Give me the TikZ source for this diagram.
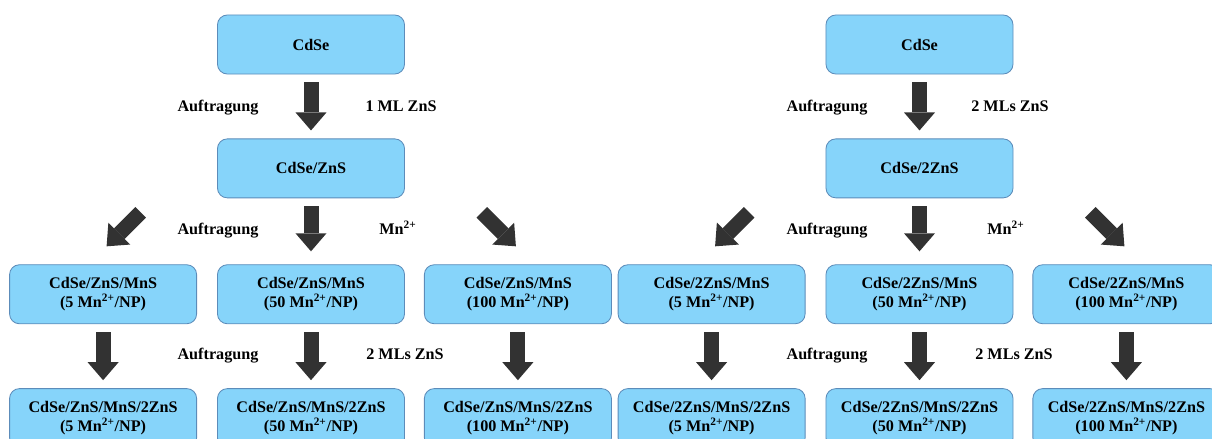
\documentclass[tikz,border=0pt]{standalone}
\usepackage{fontspec}
\setmainfont{Liberation Serif}
\usetikzlibrary{arrows.meta,positioning}
\definecolor{boxblue}{RGB}{134,212,250}
\definecolor{boxline}{RGB}{92,140,186}
\definecolor{arrowgray}{RGB}{50,50,50}

\begin{document}
\begin{tikzpicture}[x=0.025cm,y=-0.025cm,
every node/.style = {font=\bfseries\fontsize{11.5}{13.5}\selectfont, align=center},
sample/.style = {draw=boxline, fill=boxblue, line width=0.6pt, rounded corners=7pt, minimum width=4.675cm, minimum height=1.475cm},
fat/.style = {draw=arrowgray, line width=0.375cm, -{Triangle[width=0.775cm,length=0.45cm,line width=0pt]}},
note/.style = {anchor=base}]
\useasboundingbox (0,0) rectangle (1212,439);
\clip (0,0) rectangle (1212,439);

\node[sample] (a0) at (311,44.5) {CdSe};
\node[sample, below=1.6cm of a0] (a1) {CdSe/ZnS};
\node[sample, below=1.65cm of a1] (a2m) {CdSe/ZnS/MnS\\(50 Mn\textsuperscript{2+}/NP)};
\node[sample, left=0.5cm of a2m] (a2l) {CdSe/ZnS/MnS\\(5 Mn\textsuperscript{2+}/NP)};
\node[sample, right=0.475cm of a2m] (a2r) {CdSe/ZnS/MnS\\(100 Mn\textsuperscript{2+}/NP)};
\node[sample, below=1.6cm of a2l] (a3l) {CdSe/ZnS/MnS/2ZnS\\(5 Mn\textsuperscript{2+}/NP)};
\node[sample, below=1.6cm of a2m] (a3m) {CdSe/ZnS/MnS/2ZnS\\(50 Mn\textsuperscript{2+}/NP)};
\node[sample, below=1.6cm of a2r] (a3r) {CdSe/ZnS/MnS/2ZnS\\(100 Mn\textsuperscript{2+}/NP)};

\draw[fat] ([yshift=-0.2cm]a0.south) -- ([yshift=0.2cm]a1.north);
\draw[fat] ([yshift=-0.2cm]a1.south) -- ([yshift=0.325cm]a2m.north);
\draw[fat] ([shift={(37.5,-52)}]a2l.north) -- ([shift={(3.5,-18)}]a2l.north);
\draw[fat] ([shift={(-36,-52)}]a2r.north) -- ([shift={(-2,-18)}]a2r.north);
\draw[fat] ([yshift=-0.2cm]a2l.south) -- ([yshift=0.2cm]a3l.north);
\draw[fat] ([yshift=-0.2cm]a2m.south) -- ([yshift=0.2cm]a3m.north);
\draw[fat] ([yshift=-0.2cm]a2r.south) -- ([yshift=0.2cm]a3r.north);

\node[note] (ta1) at (218,112) {Auftragung};
\node[note] (tb1) at (401,112) {1 ML ZnS};
\node[note] (ta2) at (218,235) {Auftragung};
\node[note] (tb2) at (398,235) {Mn\textsuperscript{2+}};
\node[note] (ta3) at (218,359) {Auftragung};
\node[note] (tb3) at (405,359) {2 MLs ZnS};

\node[sample] (b0) at (919.5,44.5) {CdSe};
\node[sample, below=1.6cm of b0] (b1) {CdSe/2ZnS};
\node[sample, below=1.65cm of b1] (b2m) {CdSe/2ZnS/MnS\\(50 Mn\textsuperscript{2+}/NP)};
\node[sample, left=0.5cm of b2m] (b2l) {CdSe/2ZnS/MnS\\(5 Mn\textsuperscript{2+}/NP)};
\node[sample, right=0.475cm of b2m] (b2r) {CdSe/2ZnS/MnS\\(100 Mn\textsuperscript{2+}/NP)};
\node[sample, below=1.6cm of b2l] (b3l) {CdSe/2ZnS/MnS/2ZnS\\(5 Mn\textsuperscript{2+}/NP)};
\node[sample, below=1.6cm of b2m] (b3m) {CdSe/2ZnS/MnS/2ZnS\\(50 Mn\textsuperscript{2+}/NP)};
\node[sample, below=1.6cm of b2r] (b3r) {CdSe/2ZnS/MnS/2ZnS\\(100 Mn\textsuperscript{2+}/NP)};

\draw[fat] ([yshift=-0.2cm]b0.south) -- ([yshift=0.2cm]b1.north);
\draw[fat] ([yshift=-0.2cm]b1.south) -- ([yshift=0.325cm]b2m.north);
\draw[fat] ([shift={(37.5,-52)}]b2l.north) -- ([shift={(3.5,-18)}]b2l.north);
\draw[fat] ([shift={(-36,-52)}]b2r.north) -- ([shift={(-2,-18)}]b2r.north);
\draw[fat] ([yshift=-0.2cm]b2l.south) -- ([yshift=0.2cm]b3l.north);
\draw[fat] ([yshift=-0.2cm]b2m.south) -- ([yshift=0.2cm]b3m.north);
\draw[fat] ([yshift=-0.2cm]b2r.south) -- ([yshift=0.2cm]b3r.north);

\node[note] (tc1) at (827,112) {Auftragung};
\node[note] (td1) at (1010,112) {2 MLs ZnS};
\node[note] (tc2) at (827,235) {Auftragung};
\node[note] (td2) at (1006,235) {Mn\textsuperscript{2+}};
\node[note] (tc3) at (827,359) {Auftragung};
\node[note] (td3) at (1014,359) {2 MLs ZnS};
\end{tikzpicture}
\end{document}
